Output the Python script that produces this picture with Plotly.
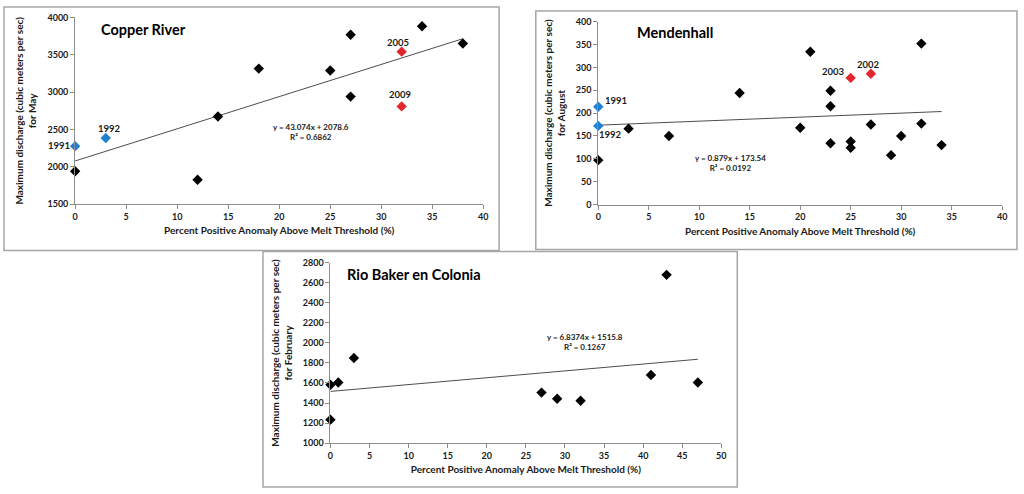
import plotly.graph_objects as go

# Copper River (May)
copper_x = [0, 12, 14, 18, 25, 27, 27, 34, 38]
copper_y = [1940, 1827, 2674, 3315, 3289, 3769, 2940, 3882, 3651]
copper_blue_x = [0, 3]
copper_blue_y = [2277, 2386]
copper_blue_years = ["1991", "1992"]
copper_red_x = [32, 32]
copper_red_y = [3542, 2809]
copper_red_years = ["2005", "2009"]
copper_fit = (43.074, 2078.6, 0.6862)

# Mendenhall (August)
mend_x = [0, 3, 7, 14, 20, 21, 23, 23, 23, 25, 25, 27, 29, 30, 32, 32, 34]
mend_y = [97, 166, 150, 244, 168, 334, 249, 215, 134, 138, 124, 175, 108, 150, 352, 177, 130]
mend_blue_x = [0, 0]
mend_blue_y = [214, 172]
mend_blue_years = ["1991", "1992"]
mend_red_x = [25, 27]
mend_red_y = [277, 286]
mend_red_years = ["2003", "2002"]
mend_fit = (0.879, 173.54, 0.0192)

# Rio Baker en Colonia (February)
baker_x = [0, 0, 1, 3, 27, 29, 32, 41, 43, 47]
baker_y = [1583, 1234, 1605, 1850, 1504, 1443, 1423, 1680, 2680, 1605]
baker_fit = (6.8374, 1515.8, 0.1267)

FONT = "Lato"
BLUE = "#1f7fd1"
RED = "#e3262b"
AXIS = "#8c8c8c"


def fit_line(fit, x):
    xs = [min(x), max(x)]
    return xs, [fit[0] * v + fit[1] for v in xs]


def axis(rng, dtick, domain, anchor, title, standoff):
    return dict(range=rng, dtick=dtick, domain=domain, anchor=anchor,
                showgrid=False, zeroline=False, showline=True, linecolor=AXIS,
                linewidth=1, ticks="outside", ticklen=4, tickcolor=AXIS,
                tickfont=dict(family=FONT, size=9, color="#1a1a1a", weight="bold"),
                title=dict(text=title, standoff=standoff,
                           font=dict(family=FONT, size=10, color="#1a1a1a", weight="bold")))


fig = go.Figure()

panels = [
    (copper_x, copper_y, copper_blue_x, copper_blue_y, copper_red_x, copper_red_y, copper_fit, "x", "y"),
    (mend_x, mend_y, mend_blue_x, mend_blue_y, mend_red_x, mend_red_y, mend_fit, "x2", "y2"),
    (baker_x, baker_y, [], [], [], [], baker_fit, "x3", "y3"),
]

for px, py, bx, by, rx, ry, fit, xa, ya in panels:
    allx = px + bx + rx
    lx, ly = fit_line(fit, allx)
    fig.add_trace(go.Scatter(x=lx, y=ly, mode="lines", xaxis=xa, yaxis=ya,
                             line=dict(color="#4d4d4d", width=1), showlegend=False))
    fig.add_trace(go.Scatter(x=px, y=py, mode="markers", xaxis=xa, yaxis=ya, cliponaxis=False,
                             marker=dict(symbol="diamond", size=8, color="black"), showlegend=False))
    if bx:
        fig.add_trace(go.Scatter(x=bx, y=by, mode="markers", xaxis=xa, yaxis=ya, cliponaxis=False,
                                 marker=dict(symbol="diamond", size=8, color=BLUE), showlegend=False))
    if rx:
        fig.add_trace(go.Scatter(x=rx, y=ry, mode="markers", xaxis=xa, yaxis=ya, cliponaxis=False,
                                 marker=dict(symbol="diamond", size=8, color=RED), showlegend=False))

xtitle = "Percent Positive Anomaly Above Melt Threshold (%)"
fig.update_layout(
    width=1024, height=494,
    margin=dict(l=0, r=0, t=0, b=0),
    paper_bgcolor="white", plot_bgcolor="white",
    xaxis=axis([0, 40], 5, [0.071, 0.4727], "y", xtitle, 6),
    yaxis=axis([1500, 4000], 500, [0.5897, 0.9763], "x",
               "Maximum discharge (cubic meters per sec)<br>for May", 8),
    xaxis2=axis([0, 40], 5, [0.5859, 0.9834], "y2", xtitle, 6),
    yaxis2=axis([0, 400], 50, [0.589, 0.9676], "x2",
                "Maximum discharge (cubic meters per sec)<br>for August", 8),
    xaxis3=axis([0, 50], 5, [0.3223, 0.7070], "y3", xtitle, 6),
    yaxis3=axis([1000, 2800], 200, [0.0951, 0.4682], "x3",
                "Maximum discharge (cubic meters per sec)<br>for February", 8),
)

# panel frames
for x0, x1, y0, y1 in [(0.001, 0.4883, 0.4939, 0.998),
                       (0.5244, 0.998, 0.496, 0.9899),
                       (0.2559, 0.7227, 0.004, 0.4919)]:
    fig.add_shape(type="rect", xref="paper", yref="paper", x0=x0, x1=x1, y0=y0, y1=y1,
                  line=dict(color="#a6a6a6", width=1.5), fillcolor="rgba(0,0,0,0)")

titles = [("Copper River", "x domain", "y domain", 0.058, 0.935),
          ("Mendenhall", "x2 domain", "y2 domain", 0.09, 0.94),
          ("Rio Baker en Colonia", "x3 domain", "y3 domain", 0.038, 0.935)]
for text, xr, yr, tx, ty in titles:
    fig.add_annotation(text=text, xref=xr, yref=yr, x=tx, y=ty, showarrow=False,
                       xanchor="left", yanchor="middle",
                       font=dict(family=FONT, size=14.5, color="black", weight="bold"))

# year labels, placed relative to the axes domain so the ones left of x=0 still show
label_font = dict(family=FONT, size=9.5, color="#1a1a1a", weight="bold")
year_pos = [
    ("x", "y", -1.62, 2290, copper_blue_years[0], 40, 1500, 2500),
    ("x", "y", 3.4, 2517, copper_blue_years[1], 40, 1500, 2500),
    ("x", "y", 31.6, 3660, copper_red_years[0], 40, 1500, 2500),
    ("x", "y", 31.9, 2966, copper_red_years[1], 40, 1500, 2500),
    ("x2", "y2", 1.8, 227, mend_blue_years[0], 40, 0, 400),
    ("x2", "y2", 1.24, 153, mend_blue_years[1], 40, 0, 400),
    ("x2", "y2", 23.3, 290, mend_red_years[0], 40, 0, 400),
    ("x2", "y2", 26.8, 307, mend_red_years[1], 40, 0, 400),
]
for xr, yr, ax, ay, text, xspan, y0, yspan in year_pos:
    fig.add_annotation(text=text, xref=xr + " domain", yref=yr + " domain",
                       x=ax / xspan, y=(ay - y0) / yspan, showarrow=False,
                       xanchor="center", yanchor="middle", font=label_font)

eq_font = dict(family=FONT, size=8, color="#1a1a1a", weight="bold")
eq_pos = [("x", "y", 23.1, 2460, copper_fit),
          ("x2", "y2", 13.1, 90, mend_fit),
          ("x3", "y3", 32.6, 2010, baker_fit)]
for xr, yr, ax, ay, fit in eq_pos:
    fig.add_annotation(text=f"y = {fit[0]}x + {fit[1]}<br>R² = {fit[2]}",
                       xref=xr, yref=yr, x=ax, y=ay, showarrow=False, font=eq_font)

fig.write_html("out.html", config={"displayModeBar": False},
               post_script="document.body.style.margin='0';")
